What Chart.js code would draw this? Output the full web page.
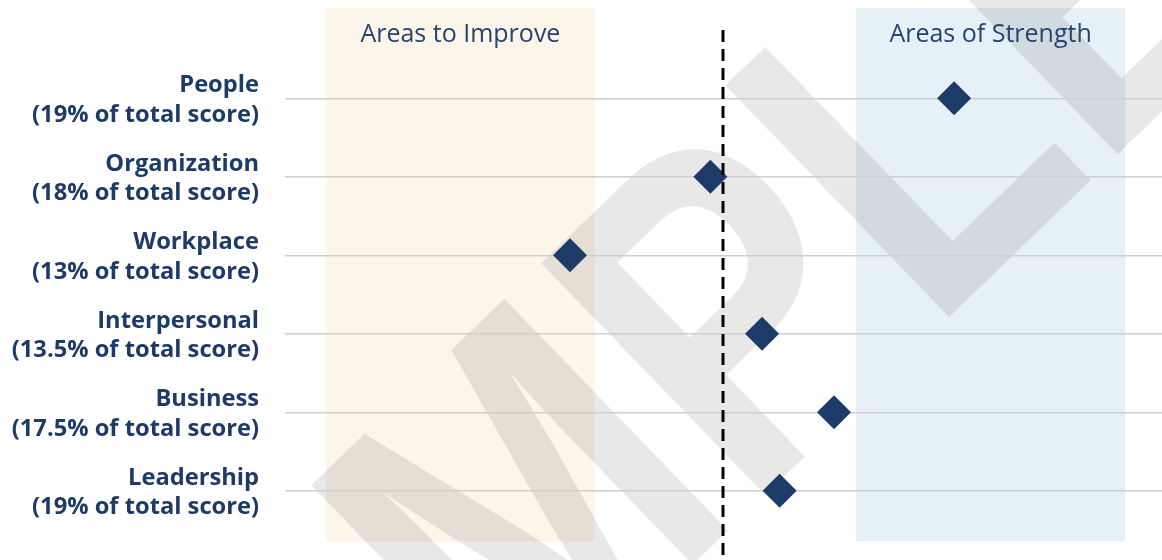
<!DOCTYPE html>
<html>
<head>
<meta charset="utf-8">
<script src="https://cdn.jsdelivr.net/npm/chart.js@4"></script>
<style>
  html, body { margin: 0; padding: 0; background: #fff; }
  #scoreChart { display: block; }
</style>
</head>
<body>
<canvas id="scoreChart" width="1162" height="560"></canvas>
<script>
const categories = ["People", "Organization", "Workplace", "Interpersonal", "Business", "Leadership"];
const shares = ["19%", "18%", "13%", "13.5%", "17.5%", "19%"];
const scores = [76.3, 48.5, 32.5, 54.4, 62.6, 56.4];
const improveRange = [4.7, 35.3];
const strengthRange = [65.1, 95.8];
const midpoint = 50;
const zoneLabels = ["Areas to Improve", "Areas of Strength"];

const navy = "#1c3b69";
const tickLabels = categories.map((c, i) => [c, "(" + shares[i] + " of total score)"]);

// shaded zones, watermark and the dashed middle line
const zonesPlugin = {
  id: "zones",
  beforeDraw(chart) {
    const { ctx, chartArea, scales } = chart;
    const top = chartArea.top - 51;
    const bottom = chartArea.bottom + 11;
    const zones = [
      { range: improveRange, color: "#fdf5e9", label: zoneLabels[0] },
      { range: strengthRange, color: "#e5f0f7", label: zoneLabels[1] },
    ];
    ctx.save();
    zones.forEach((z) => {
      const x0 = scales.x.getPixelForValue(z.range[0]);
      const x1 = scales.x.getPixelForValue(z.range[1]);
      ctx.fillStyle = z.color;
      ctx.fillRect(x0, top, x1 - x0, bottom - top);
    });

    // watermark
    ctx.save();
    ctx.translate(133, 1105);
    ctx.rotate((-44 * Math.PI) / 180);
    ctx.scale(0.82, 1);
    ctx.font = "bold 468px 'Liberation Sans'";
    ctx.textBaseline = "alphabetic";
    ctx.fillStyle = "rgba(0,0,0,0.09)";
    ctx.fillText("SAMPLE", 0, 0);
    ctx.restore();

    ctx.font = "25px 'Open Sans'";
    ctx.fillStyle = "#27446e";
    ctx.textAlign = "center";
    ctx.textBaseline = "middle";
    zones.forEach((z) => {
      const xc = scales.x.getPixelForValue((z.range[0] + z.range[1]) / 2);
      ctx.fillText(z.label, xc, top + 27);
    });
    ctx.restore();
  },
  afterDatasetsDraw(chart) {
    const { ctx, chartArea, scales } = chart;
    const x = Math.round(scales.x.getPixelForValue(midpoint)) - 1;
    ctx.save();
    ctx.strokeStyle = "#000";
    ctx.lineWidth = 3;
    ctx.setLineDash([12, 7]);
    ctx.beginPath();
    ctx.moveTo(x, chartArea.top - 29);
    ctx.lineTo(x, chart.height);
    ctx.stroke();
    ctx.restore();
  },
};

new Chart(document.getElementById("scoreChart"), {
  type: "line",
  data: {
    labels: tickLabels,
    datasets: [
      {
        data: scores,
        showLine: false,
        pointStyle: "rectRot",
        pointRadius: 17,
        pointHoverRadius: 17,
        backgroundColor: navy,
        borderColor: navy,
        borderWidth: 0,
      },
    ],
  },
  options: {
    responsive: false,
    animation: false,
    indexAxis: "y",
    layout: { autoPadding: false, padding: { top: 59, bottom: 30, left: 0, right: 0 } },
    plugins: {
      legend: { display: false },
      tooltip: { enabled: false },
    },
    scales: {
      x: { type: "linear", min: 0, max: 100, display: false },
      y: {
        type: "category",
        offset: true,
        border: { display: false },
        grid: { color: "#cfcfcf", lineWidth: 1.5, drawTicks: false, offset: false },
        ticks: {
          color: navy,
          padding: 26,
          labelOffset: 2,
          font: { family: "'Open Sans'", size: 23.7, weight: "bold", lineHeight: 1.24 },
        },
        afterFit(scale) {
          scale.width = 285;
          scale.paddingTop = 0;
          scale.paddingBottom = 0;
        },
      },
    },
  },
  plugins: [zonesPlugin],
});
</script>
</body>
</html>
